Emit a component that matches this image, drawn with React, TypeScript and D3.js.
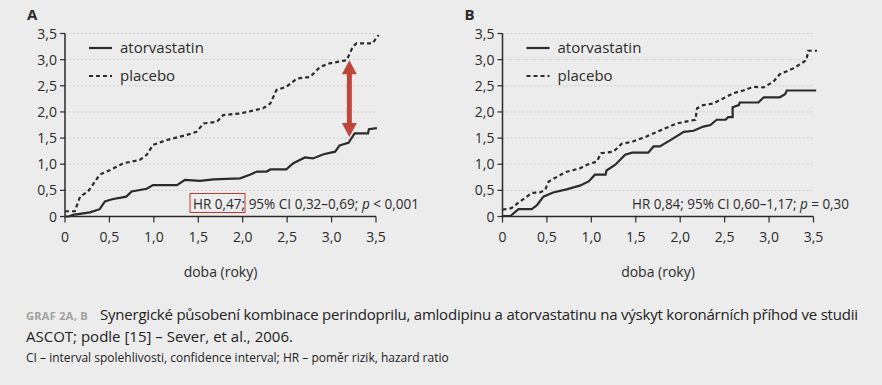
import React from "react";
import * as d3 from "d3";

const yTicks = [0, 0.5, 1, 1.5, 2, 2.5, 3, 3.5];
const xTicks = [0, 0.5, 1, 1.5, 2, 2.5, 3, 3.5];
const fmt = (v: number) => (v === 0 ? "0" : v.toFixed(1).replace(".", ","));

// panel A, [years, %]
const atorvaA: [number, number][] = [
  [0, 0], [0.04, 0], [0.09, 0.03], [0.28, 0.08], [0.39, 0.14], [0.45, 0.29], [0.53, 0.33],
  [0.69, 0.38], [0.75, 0.48], [0.92, 0.53], [0.99, 0.6], [1.26, 0.6], [1.35, 0.7],
  [1.52, 0.68], [1.67, 0.71], [1.97, 0.73], [2.08, 0.8], [2.16, 0.86], [2.27, 0.86],
  [2.31, 0.9], [2.49, 0.9], [2.57, 1.02], [2.7, 1.13], [2.79, 1.11], [2.91, 1.19],
  [3.04, 1.24], [3.09, 1.36], [3.19, 1.41], [3.26, 1.59], [3.41, 1.59], [3.42, 1.67], [3.51, 1.69],
];
const placeboA: [number, number][] = [
  [0, 0.1], [0.11, 0.1], [0.17, 0.38], [0.26, 0.48], [0.39, 0.8], [0.51, 0.89], [0.66, 1.02],
  [0.84, 1.08], [0.92, 1.18], [0.99, 1.37], [1.14, 1.46], [1.37, 1.56], [1.48, 1.62],
  [1.56, 1.78], [1.71, 1.81], [1.78, 1.94], [1.97, 1.97], [2.23, 2.07], [2.31, 2.16],
  [2.38, 2.42], [2.49, 2.48], [2.61, 2.64], [2.76, 2.67], [2.87, 2.86], [2.98, 2.93],
  [3.17, 2.99], [3.24, 3.25], [3.28, 3.31], [3.46, 3.31], [3.53, 3.47],
];
// panel B
const atorvaB: [number, number][] = [
  [0, 0.01], [0.09, 0.01], [0.18, 0.14], [0.33, 0.14], [0.39, 0.22], [0.46, 0.38], [0.57, 0.46],
  [0.72, 0.52], [0.87, 0.59], [0.97, 0.67], [1.04, 0.8], [1.16, 0.8], [1.17, 0.88],
  [1.27, 0.99], [1.38, 1.18], [1.46, 1.22], [1.64, 1.22], [1.7, 1.34], [1.77, 1.34],
  [1.89, 1.46], [2.04, 1.62], [2.15, 1.64], [2.26, 1.72], [2.34, 1.75], [2.41, 1.85],
  [2.51, 1.85], [2.54, 1.9], [2.59, 1.9], [2.59, 2.09], [2.66, 2.13], [2.67, 2.18],
  [2.88, 2.18], [2.94, 2.28], [3.12, 2.28], [3.18, 2.34], [3.2, 2.41], [3.53, 2.41],
];
const placeboB: [number, number][] = [
  [0, 0.13], [0.1, 0.16], [0.2, 0.29], [0.33, 0.45], [0.42, 0.46], [0.48, 0.51], [0.52, 0.67],
  [0.71, 0.85], [0.87, 0.92], [0.95, 0.99], [1.06, 1.05], [1.11, 1.21], [1.25, 1.24],
  [1.34, 1.39], [1.46, 1.43], [1.62, 1.53], [1.74, 1.62], [1.96, 1.78], [2.17, 1.85],
  [2.19, 2.07], [2.26, 2.13], [2.37, 2.16], [2.6, 2.36], [2.71, 2.41], [2.82, 2.48],
  [2.94, 2.47], [3.05, 2.58], [3.12, 2.72], [3.27, 2.83], [3.42, 2.99], [3.44, 3.17], [3.54, 3.17],
];

const FONT = "'Open Sans', sans-serif";
const INK = "#2b2b2b";

function Panel(props: {
  left: number; label: string; atorva: [number, number][]; placebo: [number, number][];
  hr: string; ci: string; p: string; boxed: boolean; hrStart: number; hrEnd: number;
  arrowAt?: [number, number, number];
}) {
  const { left, label, atorva, placebo } = props;
  const x = d3.scaleLinear().domain([0, 3.5]).range([left, left + 311]);
  const y = d3.scaleLinear().domain([0, 3.5]).range([216.5, 33.5]);
  const line = d3.line<[number, number]>().x((d) => x(d[0])).y((d) => y(d[1]));
  return (
    <g fontFamily={FONT} fill={INK}>
      <text x={left - 38} y={20} fontSize={15} fontWeight="bold">{label}</text>
      {yTicks.slice(1).map((t) => (
        <line key={"g" + t} x1={x(0)} x2={x(3.5)} y1={y(t)} y2={y(t)} stroke="#c8c8c8" strokeDasharray="2,2" strokeWidth={0.8} />
      ))}
      <line x1={x(0)} x2={x(0)} y1={y(3.5)} y2={y(0) + 1} stroke={INK} strokeWidth={1.5} />
      <line x1={x(0)} x2={x(3.5)} y1={y(0)} y2={y(0)} stroke={INK} strokeWidth={1.5} />
      {yTicks.map((t) => (
        <g key={"y" + t}>
          <line x1={x(0) - 5} x2={x(0)} y1={y(t)} y2={y(t)} stroke={INK} strokeWidth={1.2} />
          <text x={x(0) - 8} y={y(t) + 5} fontSize={14} textAnchor="end">{fmt(t)}</text>
        </g>
      ))}
      {xTicks.map((t) => (
        <g key={"x" + t}>
          <line x1={x(t)} x2={x(t)} y1={y(0)} y2={y(0) + 6} stroke={INK} strokeWidth={1.2} />
          <text x={x(t)} y={242} fontSize={14} textAnchor="middle">{fmt(t)}</text>
        </g>
      ))}
      <text x={(x(0) + x(3.5)) / 2} y={277} fontSize={14} textAnchor="middle">doba (roky)</text>
      <path d={line(placebo) ?? ""} fill="none" stroke={INK} strokeWidth={2.2} strokeDasharray="4,3" />
      <path d={line(atorva) ?? ""} fill="none" stroke={INK} strokeWidth={2.2} />
      <line x1={x(0) + 24} x2={x(0) + 47} y1={48} y2={48} stroke={INK} strokeWidth={2.2} />
      <text x={x(0) + 55} y={53} fontSize={15}>atorvastatin</text>
      <line x1={x(0) + 24} x2={x(0) + 47} y1={76} y2={76} stroke={INK} strokeWidth={2.2} strokeDasharray="4,3" />
      <text x={x(0) + 55} y={81} fontSize={15}>placebo</text>
      <text x={props.hrStart} y={208.5} fontSize={14} textLength={props.hrEnd - props.hrStart} lengthAdjust="spacingAndGlyphs">
        {props.hr}; 95% CI {props.ci}; <tspan fontStyle="italic">p</tspan> {props.p}
      </text>
      {props.boxed && (
        <rect x={props.hrStart - 3} y={193.5} width={55} height={19} fill="none" stroke="#c0392b" strokeWidth={1} />
      )}
      {props.arrowAt && (() => {
        const [ax, y1, y2] = props.arrowAt;
        const cx = x(ax);
        const top = y(y1);
        const bot = y(y2);
        return (
          <g fill="#c0453a">
            <rect x={cx - 2.5} y={top + 12} width={5} height={bot - top - 24} />
            <path d={`M${cx},${top} L${cx + 7.5},${top + 14} L${cx - 7.5},${top + 14} Z`} />
            <path d={`M${cx},${bot} L${cx + 7.5},${bot - 14} L${cx - 7.5},${bot - 14} Z`} />
          </g>
        );
      })()}
    </g>
  );
}

export default function App() {
  return (
    <svg width={882} height={385} style={{ position: "absolute", left: 0, top: 0, background: "#ececec" }}>
      <rect width={882} height={385} fill="#ececec" />
      <Panel left={65} label="A" atorva={atorvaA} placebo={placeboA} hr="HR 0,47" ci="0,32–0,69" p="< 0,001"
        boxed hrStart={193} hrEnd={419} arrowAt={[3.2, 2.99, 1.52]} />
      <Panel left={502.5} label="B" atorva={atorvaB} placebo={placeboB} hr="HR 0,84" ci="0,60–1,17" p="= 0,30"
        boxed={false} hrStart={632} hrEnd={849} />
      <g fontFamily={FONT}>
        <text x={26} y={320} fontSize={11} fill="#a0a0a0" fontWeight="bold" letterSpacing={0.3}>GRAF 2A, B</text>
        <text x={100} y={320} fontSize={15} fill="#222" textLength={758} lengthAdjust="spacing">
          Synergické působení kombinace perindoprilu, amlodipinu a atorvastatinu na výskyt koronárních příhod ve studii
        </text>
        <text x={26} y={342} fontSize={15} fill="#222">ASCOT; podle [15] – Sever, et al., 2006.</text>
        <text x={26} y={362} fontSize={12} fill="#222">CI – interval spolehlivosti, confidence interval; HR – poměr rizik, hazard ratio</text>
      </g>
    </svg>
  );
}
